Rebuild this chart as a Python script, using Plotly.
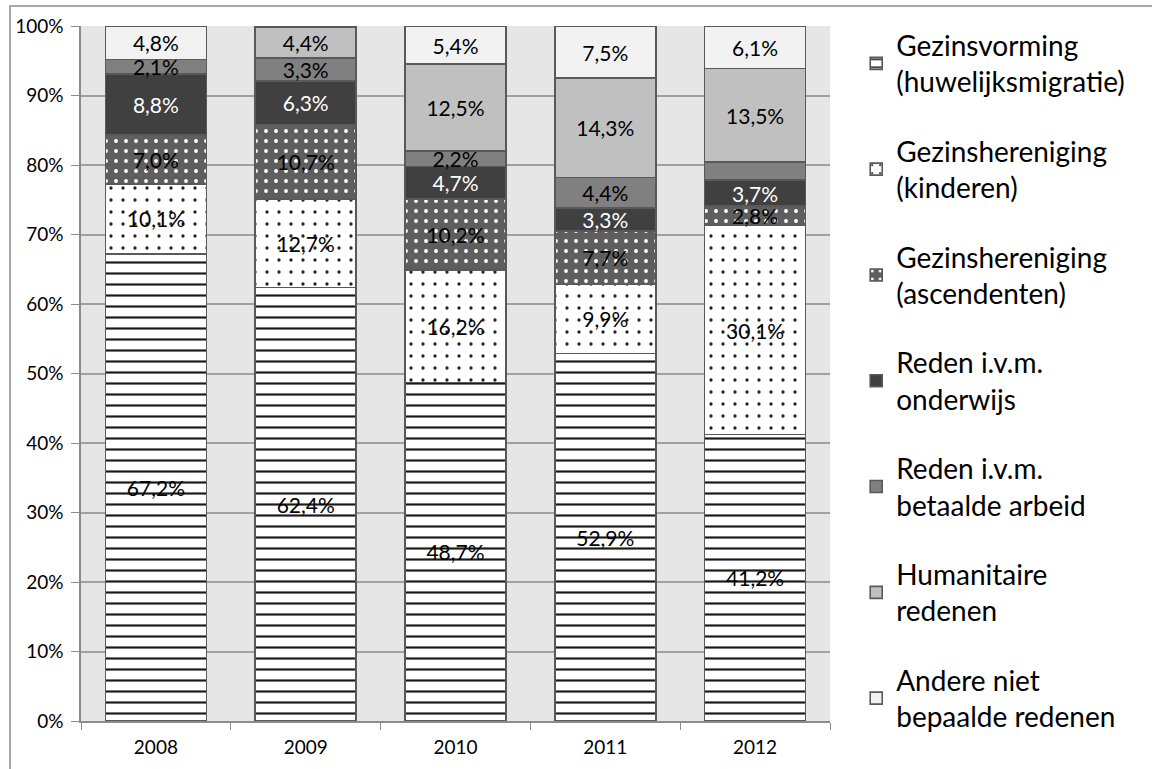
import plotly.graph_objects as go

# data (percent of total per year)
years = ["2008", "2009", "2010", "2011", "2012"]
gezinsvorming = [67.2, 62.4, 48.7, 52.9, 41.2]
kinderen = [10.1, 12.7, 16.2, 9.9, 30.1]
ascendenten = [7.0, 10.7, 10.2, 7.7, 2.8]
onderwijs = [8.8, 6.3, 4.7, 3.3, 3.7]
arbeid = [2.1, 3.3, 2.2, 4.4, 2.6]
humanitair = [0.0, 4.4, 12.5, 14.3, 13.5]
andere = [4.8, 0.2, 5.4, 7.5, 6.1]

y_ticks = [0, 10, 20, 30, 40, 50, 60, 70, 80, 90, 100]
y_labels = ["0%", "10%", "20%", "30%", "40%", "50%", "60%", "70%", "80%", "90%", "100%"]

names = [
    "Gezinsvorming<br>(huwelijksmigratie)",
    "Gezinshereniging<br>(kinderen)",
    "Gezinshereniging<br>(ascendenten)",
    "Reden i.v.m.<br>onderwijs",
    "Reden i.v.m.<br>betaalde arbeid",
    "Humanitaire<br>redenen",
    "Andere niet<br>bepaalde redenen",
]


def fmt(v):
    if v < 1:
        return ""
    return f"{v:.1f}%".replace(".", ",")


arbeid_text = [fmt(v) for v in arbeid]
arbeid_text[4] = ""  # not labelled in the original

series = [
    (gezinsvorming, [fmt(v) for v in gezinsvorming],
     dict(shape="-", size=11, solidity=0.2, fgcolor="#1a1a1a", bgcolor="white", fillmode="replace"),
     "white", "black"),
    (kinderen, [fmt(v) for v in kinderen],
     dict(shape=".", size=12, solidity=0.06, fgcolor="#222222", bgcolor="white", fillmode="replace"),
     "white", "black"),
    (ascendenten, [fmt(v) for v in ascendenten],
     dict(shape=".", size=10, solidity=0.12, fgcolor="white", bgcolor="#5e5e5e", fillmode="replace"),
     "#5e5e5e", "black"),
    (onderwijs, [fmt(v) for v in onderwijs], None, "#404040", "white"),
    (arbeid, arbeid_text, None, "#808080", "black"),
    (humanitair, [fmt(v) for v in humanitair], None, "#c0c0c0", "black"),
    (andere, [fmt(v) for v in andere], None, "#f2f2f2", "black"),
]

fig = go.Figure()

for i, (vals, txt, pattern, color, tcolor) in enumerate(series):
    marker = dict(color=color, line=dict(color="#595959", width=1.6))
    if pattern:
        marker["pattern"] = pattern
    fig.add_trace(
        go.Bar(
            x=years,
            y=vals,
            name=names[i],
            text=txt,
            textposition="inside",
            insidetextanchor="middle",
            textangle=0,
            insidetextfont=dict(color=tcolor, size=21, family="Lato"),
            marker=marker,
            legendgroup=str(i),
        )
    )

# plot area: x 81..830, y 26..721
fig.update_layout(
    width=1152,
    height=769,
    barmode="stack",
    bargap=0.325,
    plot_bgcolor="#e6e6e6",
    paper_bgcolor="white",
    margin=dict(l=81, r=322, t=26, b=48),
    font=dict(family="Lato", color="black"),
    uniformtext=dict(minsize=21, mode="show"),
    legend=dict(
        x=1.035,
        y=1.008,
        xanchor="left",
        yanchor="top",
        traceorder="grouped",
        tracegroupgap=30,
        maxheight=765,
        font=dict(size=28, family="Lato", color="black"),
        itemwidth=30,
    ),
    shapes=[
        dict(
            type="rect", xref="paper", yref="paper",
            x0=-0.0948, x1=1.45, y0=-0.08, y1=1.0288,
            line=dict(color="#8c8c8c", width=1.5),
            fillcolor="rgba(0,0,0,0)", layer="below",
        )
    ],
)

fig.update_yaxes(
    range=[0, 100],
    tickmode="array",
    tickvals=y_ticks,
    ticktext=y_labels,
    showgrid=True,
    gridcolor="#a0a0a0",
    gridwidth=1.5,
    showline=True,
    linecolor="#8c8c8c",
    linewidth=1.5,
    ticks="outside",
    ticklen=8,
    tickcolor="#8c8c8c",
    ticklabelstandoff=4,
    tickfont=dict(size=19, color="black"),
    zeroline=False,
)

fig.update_xaxes(
    showline=True,
    linecolor="#8c8c8c",
    linewidth=1.5,
    ticks="outside",
    tickson="boundaries",
    ticklen=7,
    tickcolor="#8c8c8c",
    ticklabelstandoff=8,
    tickfont=dict(size=19, color="black"),
)

# page has an 8px body margin by default; remove it so the figure sits at 0,0
fig.write_html(
    "out.html",
    config={"displayModeBar": False},
    post_script="document.body.style.margin='0';",
)
